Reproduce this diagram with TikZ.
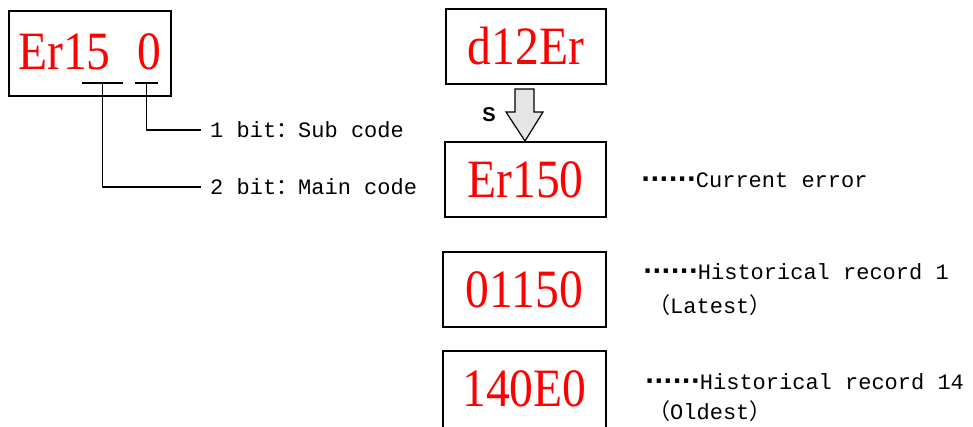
\documentclass[tikz,border=0pt]{standalone}
\usepackage{fontspec}
\usepackage{graphicx}
\setmainfont{Liberation Serif}
\newfontfamily\lbl{Liberation Mono}
\newfontfamily\cjk{Noto Sans CJK SC}
\newfontfamily\sanss{Liberation Sans}
\newfontfamily\dvs{DejaVu Sans}
\newcommand{\fw}[1]{{\cjk #1}}
\newcommand{\nar}[1]{\scalebox{0.88}[1]{#1}}
\newcommand{\dts}{{\dvs\bfseries\fontsize{24}{24}\selectfont ······}}
\usetikzlibrary{calc}
\begin{document}
\begin{tikzpicture}[x=1pt,y=-1pt,
  box/.style={draw,line width=1.3pt,inner sep=0pt},
  code/.style={text=red,font=\fontsize{54}{54}\selectfont,inner sep=0pt},
  note/.style={anchor=west,inner sep=0pt,font=\lbl\fontsize{22}{24}\selectfont},
  conn/.style={line width=1.3pt}]
\useasboundingbox (0,0) rectangle (973,426);
% left box
\node[box,minimum width=162pt,minimum height=85pt] (b0) at (90,53.5) {};
\node[code,anchor=west] (t0) at (18,52) {\nar{Er15}};
\node[code,anchor=west] (t0b) at (137,52) {\nar{0}};
\coordinate (u1a) at (82,83); \coordinate (u1b) at (123,83);
\coordinate (u2a) at (135,83); \coordinate (u2b) at (158,83);
\draw[conn] (u1a) -- (u1b);
\draw[conn] (u2a) -- (u2b);
\node[note] (sub) at (210,130) {1 bit\fw{：}Sub code};
\node[note] (main) at (210,187) {2 bit\fw{：}Main code};
\draw[conn] ($(u2a)!0.5!(u2b)$) |- ($(sub.west)+(-9,0)$);
\draw[conn] ($(u1a)!0.5!(u1b)$) |- ($(main.west)+(-9,0)$);
% right column
\node[box,minimum width=160pt,minimum height=75pt] (d) at (526,46.5) {};
\node[code] at (d.center) {\nar{d12Er}};
\node[box,minimum width=161pt,minimum height=75pt] (c) at (525.5,179.5) {};
\node[code] at (c.center) {\nar{Er150}};
\node[box,minimum width=163pt,minimum height=75pt] (h1) at (524.5,289.5) {};
\node[code] at (h1.center) {\nar{01150}};
\node[box,minimum width=163pt,minimum height=85pt] (h14) at (524.5,393.5) {};
\node[code] at (524.5,389) {\nar{140E0}};
% block arrow
\draw[line width=1.2pt,fill=black!10]
  (515,89) -- (534,89) -- (534,112) -- (543,112) -- (525,141) -- (506,112) -- (515,112) -- cycle;
\node[font=\sanss\bfseries\fontsize{20}{20}\selectfont,inner sep=0pt] (s) at (489,115) {S};
% notes
\node[note] (ce) at (641,180) {\dts Current error};
\node[note] (r1) at (643,272) {\dts Historical record 1};
\node[note] (r1b) at (648,305) {\fw{（}Latest\fw{）}};
\node[note] (r14) at (645,382) {\dts Historical record 14};
\node[note] (r14b) at (648,411) {\fw{（}Oldest\fw{）}};
\end{tikzpicture}
\end{document}
